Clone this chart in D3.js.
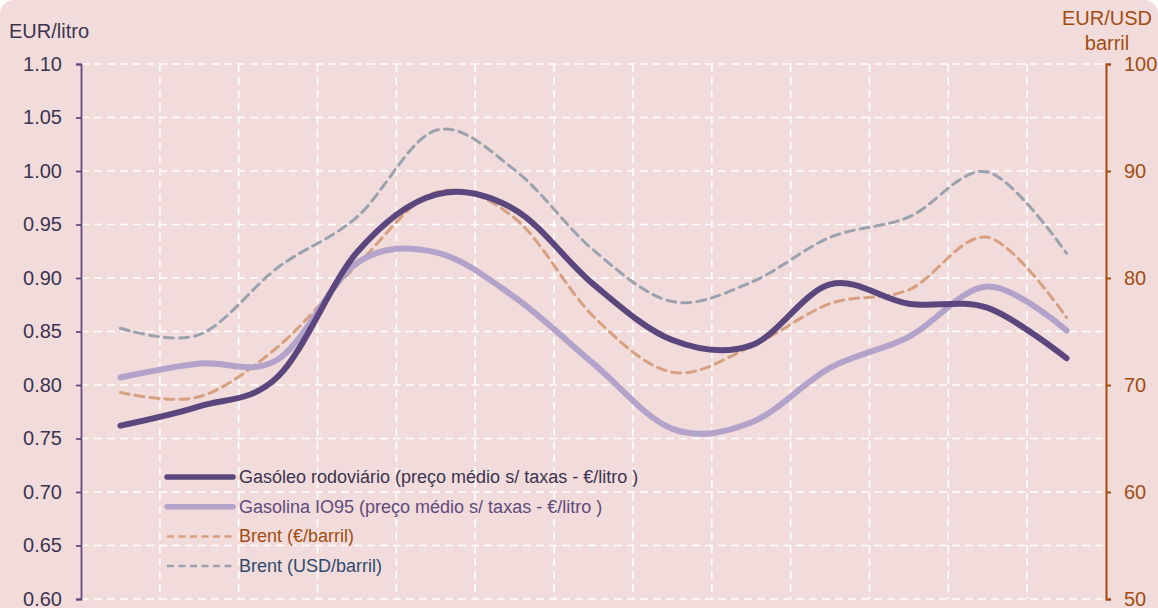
<!DOCTYPE html>
<html>
<head>
<meta charset="utf-8">
<script src="https://cdn.jsdelivr.net/npm/d3@7"></script>
<style>
  body { margin: 0; background: #ffffff; }
  svg { display: block; font-family: "Liberation Sans", Arial, sans-serif; }
</style>
</head>
<body>
<div id="chart"></div>
<script>
// 13 periods (labels not visible in the picture)
const periods = ["p1","p2","p3","p4","p5","p6","p7","p8","p9","p10","p11","p12","p13"];

const gasoleo  = [0.762, 0.780, 0.808, 0.924, 0.978, 0.964, 0.894, 0.842, 0.837, 0.894, 0.876, 0.872, 0.825];
const gasolina = [0.807, 0.820, 0.824, 0.914, 0.924, 0.882, 0.820, 0.759, 0.765, 0.816, 0.845, 0.892, 0.851];
const brentEur = [69.3, 68.9, 73.6, 81.2, 88.0, 85.6, 76.4, 71.2, 73.6, 77.6, 78.9, 83.8, 76.3];
const brentUsd = [75.3, 74.7, 81.0, 85.7, 93.8, 90.1, 82.6, 77.8, 79.6, 83.8, 85.7, 89.9, 82.3];

const leftTicks  = [0.60, 0.65, 0.70, 0.75, 0.80, 0.85, 0.90, 0.95, 1.00, 1.05, 1.10];
const rightTicks = [50, 60, 70, 80, 90, 100];

const W = 1158, H = 608;
const margin = {top: 64, right: 52, bottom: 9, left: 81};
const width = W - margin.left - margin.right,
      height = H - margin.top - margin.bottom;

const svg = d3.select("#chart").append("svg")
  .attr("width", W).attr("height", H);

svg.append("rect")
  .attr("x", 0).attr("y", 0).attr("width", W).attr("height", H + 20)
  .attr("rx", 14).attr("fill", "#f2dcdb");

const g = svg.append("g").attr("transform", `translate(${margin.left},${margin.top})`);

const x = d3.scaleBand().domain(periods).range([0, width]);
const xc = d => x(d) + x.bandwidth() / 2;
const yL = d3.scaleLinear().domain([0.60, 1.10]).range([height, 0]);
const yR = d3.scaleLinear().domain([50, 100]).range([height, 0]);

// gridlines
const grid = g.append("g").attr("stroke", "#ffffff").attr("stroke-width", 1.6)
  .attr("stroke-dasharray", "8,5");
grid.selectAll("line.h").data(leftTicks).join("line").attr("class", "h")
  .attr("x1", 0).attr("x2", width)
  .attr("y1", d => yL(d)).attr("y2", d => yL(d));
grid.selectAll("line.v").data(periods.slice(1)).join("line").attr("class", "v")
  .attr("x1", d => x(d)).attr("x2", d => x(d))
  .attr("y1", 0).attr("y2", height);

// axes
const axL = g.append("g").call(d3.axisLeft(yL).tickValues(leftTicks).tickFormat(d3.format(".2f")).tickSize(5).tickPadding(14));
axL.select(".domain").attr("stroke", "#604a7b").attr("stroke-width", 1.8);
axL.selectAll(".tick line").attr("stroke", "#604a7b").attr("stroke-width", 1.8);
axL.selectAll(".tick text").attr("fill", "#3b3450").style("font-size", "20px")
  .style("font-family", "'Liberation Sans', Arial, sans-serif");

const axR = g.append("g").attr("transform", `translate(${width},0)`)
  .call(d3.axisRight(yR).tickValues(rightTicks).tickSize(5).tickPadding(13));
axR.select(".domain").attr("stroke", "#a24c10").attr("stroke-width", 2);
axR.selectAll(".tick line").attr("stroke", "#a24c10").attr("stroke-width", 2);
axR.selectAll(".tick text").attr("fill", "#a24c10").style("font-size", "20px")
  .style("font-family", "'Liberation Sans', Arial, sans-serif");

svg.append("text").attr("x", 9).attr("y", 38).text("EUR/litro")
  .attr("fill", "#3b3450").style("font-size", "20px");
svg.append("text").attr("x", 1107).attr("y", 25).attr("text-anchor", "middle").text("EUR/USD")
  .attr("fill", "#a24c10").style("font-size", "20px");
svg.append("text").attr("x", 1107).attr("y", 50).attr("text-anchor", "middle").text("barril")
  .attr("fill", "#a24c10").style("font-size", "20px");

// series
const series = [
  {name: "Brent (USD/barril)", values: brentUsd, y: yR, color: "#9ba2ae", width: 3, dash: "9,6", text: "#2d4a6e"},
  {name: "Brent (€/barril)", values: brentEur, y: yR, color: "#d7a080", width: 3, dash: "9,6", text: "#a24c10"},
  {name: "Gasolina IO95 (preço médio s/ taxas - €/litro )", values: gasolina, y: yL, color: "#b3a2c9", width: 6, dash: null, text: "#604a7b"},
  {name: "Gasóleo rodoviário (preço médio s/ taxas - €/litro )", values: gasoleo, y: yL, color: "#5b477d", width: 6, dash: null, text: "#3b3450"}
];

series.forEach(s => {
  const line = d3.line()
    .x((d, i) => xc(periods[i]))
    .y(d => s.y(d))
    .curve(d3.curveCatmullRom.alpha(0));
  g.append("path").datum(s.values)
    .attr("d", line)
    .attr("fill", "none")
    .attr("stroke", s.color)
    .attr("stroke-width", s.width)
    .attr("stroke-linecap", "round")
    .attr("stroke-dasharray", s.dash);
});

// legend
const legendOrder = [series[3], series[2], series[1], series[0]];
const leg = svg.append("g").attr("transform", "translate(165,477)");
legendOrder.forEach((s, i) => {
  const row = leg.append("g").attr("transform", `translate(0,${i * 29.7})`);
  row.append("line").attr("x1", 2).attr("x2", 68).attr("y1", 0).attr("y2", 0)
    .attr("stroke", s.color).attr("stroke-width", s.dash ? 2.5 : 5.5)
    .attr("stroke-linecap", s.dash ? "butt" : "round")
    .attr("stroke-dasharray", s.dash ? "7,4.5" : null);
  row.append("text").attr("x", 74).attr("y", 6).text(s.name)
    .attr("fill", s.text).style("font-size", "18px");
});
</script>
</body>
</html>
